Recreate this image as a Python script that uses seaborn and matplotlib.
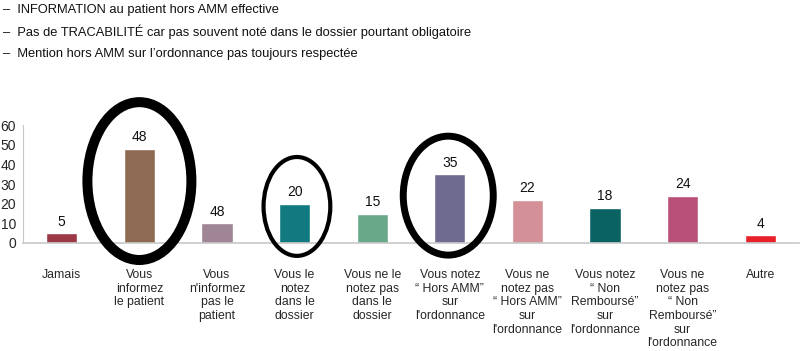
import matplotlib
matplotlib.use("Agg")
import matplotlib.pyplot as plt
from matplotlib.patches import Ellipse
import seaborn as sns
import pandas as pd

# donnees
categories = [
    "Jamais",
    "Vous\ninformez\nle patient",
    "Vous\nn'informez\npas le\npatient",
    "Vous le\nnotez\ndans le\ndossier",
    "Vous ne le\nnotez pas\ndans le\ndossier",
    "Vous notez\n\u201c Hors AMM\u201d\nsur\nl'ordonnance",
    "Vous ne\nnotez pas\n\u201c Hors AMM\u201d\nsur\nl'ordonnance",
    "Vous notez\n\u201c Non\nRembours\u00e9\u201d\nsur\nl'ordonnance",
    "Vous ne\nnotez pas\n\u201c Non\nRembours\u00e9\u201d\nsur\nl'ordonnance",
    "Autre",
]
valeurs = [5, 48, 10, 20, 15, 35, 22, 18, 24, 4]
etiquettes = ["5", "48", "48", "20", "15", "35", "22", "18", "24", "4"]
couleurs = ["#9b3a46", "#8f6a52", "#a08596", "#117a80", "#6aa88a",
            "#6f6a90", "#d49097", "#0b6262", "#b85078", "#e8202a"]
remarques = [
    "INFORMATION au patient hors AMM effective",
    "Pas de TRACABILIT\u00c9 car pas souvent not\u00e9 dans le dossier pourtant obligatoire",
    "Mention hors AMM sur l\u2019ordonnance pas toujours respect\u00e9e",
]

sns.set_style("white")
plt.rcParams["font.family"] = ["Liberation Sans", "DejaVu Sans"]

df = pd.DataFrame({"cat": categories, "val": valeurs})

fig = plt.figure(figsize=(8, 3.51), dpi=100)
ax = fig.add_axes([0.02875, 0.3077, 0.97, 0.336])

sns.barplot(data=df, x="cat", y="val", hue="cat", palette=couleurs,
            legend=False, width=0.4, saturation=1, ax=ax)

for i, (v, t) in enumerate(zip(valeurs, etiquettes)):
    ax.text(i, v + 2.3, t, ha="center", va="bottom", fontsize=10, color="#111111")

ax.set_ylim(0, 60)
ax.set_xlim(-0.5, len(categories) - 0.5)
ax.set_yticks(range(0, 61, 10))
ax.set_xlabel("")
ax.set_ylabel("")
for s in ["top", "right"]:
    ax.spines[s].set_visible(False)
ax.spines["left"].set_color("#c8c8c8")
ax.spines["bottom"].set_color("#c8c8c8")
ax.spines["bottom"].set_linewidth(1.2)
ax.tick_params(axis="y", length=3, color="#c8c8c8", labelsize=10, pad=2)
ax.tick_params(axis="x", length=0, labelsize=8.8, pad=19)
for lab in ax.get_xticklabels():
    lab.set_linespacing(1.17)
    lab.set_verticalalignment("top")

# cercles de mise en evidence
for cx, cy, w, h, lw in [(1.0, 31.5, 1.34, 80.3, 7.2),
                          (3.03, 18.6, 0.86, 50.3, 3.0),
                          (4.98, 24.1, 1.16, 60.5, 5.0)]:
    ax.add_patch(Ellipse((cx, cy), w, h, fill=False, edgecolor="black",
                         linewidth=lw, clip_on=False, zorder=5))

for k, r in enumerate(remarques):
    fig.text(0.004, 1 - (10 + 22 * k) / 351, "\u2013  " + r, fontsize=9.3,
             ha="left", va="center", color="#111111")

fig.savefig("out.png", dpi=100)
